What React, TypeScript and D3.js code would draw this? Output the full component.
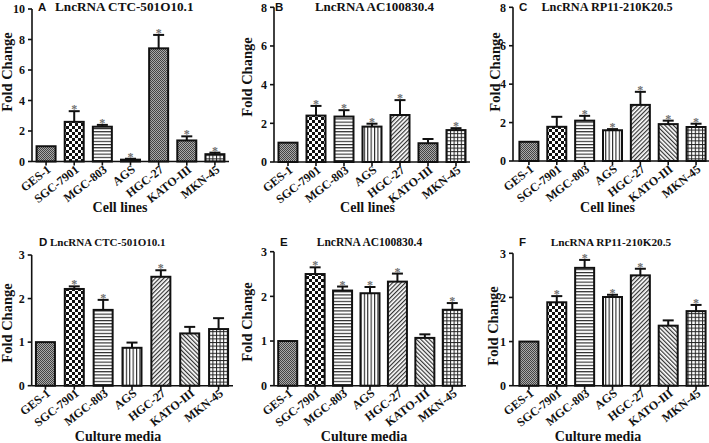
import React from "react";
import * as d3 from "d3";

const categories = ["GES-1", "SGC-7901", "MGC-803", "AGS", "HGC-27", "KATO-III", "MKN-45"];

const valuesA = [1.0, 2.6, 2.28, 0.12, 7.42, 1.38, 0.48];
const errorsA = [0, 0.7, 0.12, 0.06, 0.88, 0.27, 0.1];
const sigA = [false, true, true, true, true, true, true];

const valuesB = [1.0, 2.4, 2.35, 1.83, 2.43, 0.97, 1.65];
const errorsB = [0, 0.5, 0.33, 0.15, 0.77, 0.22, 0.1];
const sigB = [false, true, true, true, true, false, true];

const valuesC = [1.0, 1.78, 2.1, 1.6, 2.92, 1.92, 1.77];
const errorsC = [0, 0.52, 0.25, 0.06, 0.68, 0.18, 0.17];
const sigC = [false, false, true, true, true, true, true];

const valuesD = [1.0, 2.22, 1.74, 0.87, 2.5, 1.2, 1.3];
const errorsD = [0, 0.06, 0.23, 0.12, 0.15, 0.15, 0.25];
const sigD = [false, true, true, false, true, false, false];

const valuesE = [1.0, 2.5, 2.13, 2.07, 2.33, 1.07, 1.7];
const errorsE = [0, 0.15, 0.09, 0.14, 0.18, 0.08, 0.15];
const sigE = [false, true, true, true, true, false, true];

const valuesF = [1.0, 1.89, 2.67, 2.01, 2.5, 1.36, 1.69];
const errorsF = [0, 0.14, 0.18, 0.05, 0.15, 0.12, 0.14];
const sigF = [false, true, true, true, true, false, true];

const titles = ["LncRNA CTC-501O10.1", "LncRNA AC100830.4", "LncRNA RP11-210K20.5"];
const letters = ["A", "B", "C", "D", "E", "F"];
const xAxisTitles = ["Cell lines", "Culture media"];
const yAxisTitle = "Fold Change";
const yMaxTop = [10, 8, 8];
const yStepTop = [2, 2, 2];
const yMaxBottom = 3;
const yStepBottom = 1;

const serif = "'Liberation Serif', 'Times New Roman', serif";
const sans = "'Liberation Sans', Arial, sans-serif";

const patTop = [
  ["fine", "checker", "hlines", "vlines", "fine", "fine", "grid"],
  ["fine", "checker", "hlines", "vlines", "diag", "fine", "grid"],
  ["fine", "checker", "hlines", "vlines", "diag", "diag2", "grid"],
];
const patBottom = ["fine", "checker", "hlines", "vlines", "diag", "diag2", "grid"];

type Panel = {
  letter: string;
  title: string;
  values: number[];
  errors: number[];
  sig: boolean[];
  yMax: number;
  yStep: number;
  left: number;
  right: number;
  bandL: number;
  y0: number;
  yTop: number;
  letterX: number;
  titleX: number;
  titleAnchor: string;
  titleSize: number;
  titleY: number;
  ylabX: number;
  ylabY: number;
  xlab: string;
  xlabX: number;
  xlabY: number;
  lblDx: number;
  lblDy: number;
  patterns: string[];
};

const panels: Panel[] = [
  { letter: letters[0], title: titles[0], values: valuesA, errors: errorsA, sig: sigA, yMax: yMaxTop[0], yStep: yStepTop[0],
    left: 32, right: 229, bandL: 32, y0: 161.5, yTop: 9, letterX: 38, titleX: 55, titleAnchor: "start", titleSize: 13.2, titleY: 11,
    ylabX: 7, ylabY: 72, xlab: xAxisTitles[0], xlabX: 120, xlabY: 212, lblDx: 5.5, lblDy: 9.5, patterns: patTop[0] },
  { letter: letters[1], title: titles[1], values: valuesB, errors: errorsB, sig: sigB, yMax: yMaxTop[1], yStep: yStepTop[1],
    left: 274, right: 470, bandL: 274, y0: 162, yTop: 7.3, letterX: 275, titleX: 374.5, titleAnchor: "middle", titleSize: 13, titleY: 11,
    ylabX: 247, ylabY: 77, xlab: xAxisTitles[0], xlabX: 367.5, xlabY: 212, lblDx: 5.5, lblDy: 9.5, patterns: patTop[1] },
  { letter: letters[2], title: titles[2], values: valuesC, errors: errorsC, sig: sigC, yMax: yMaxTop[2], yStep: yStepTop[2],
    left: 513, right: 710, bandL: 515, y0: 161, yTop: 7.3, letterX: 519, titleX: 607, titleAnchor: "middle", titleSize: 12.3, titleY: 11,
    ylabX: 495, ylabY: 72, xlab: xAxisTitles[0], xlabX: 607.5, xlabY: 212, lblDx: 5.5, lblDy: 9.5, patterns: patTop[2] },
  { letter: letters[3], title: titles[0], values: valuesD, errors: errorsD, sig: sigD, yMax: yMaxBottom, yStep: yStepBottom,
    left: 31.7, right: 233, bandL: 31, y0: 385.7, yTop: 255, letterX: 39, titleX: 50, titleAnchor: "start", titleSize: 11, titleY: 246,
    ylabX: 7, ylabY: 323, xlab: xAxisTitles[1], xlabX: 118, xlabY: 441, lblDx: 5.5, lblDy: 9, patterns: patBottom },
  { letter: letters[4], title: titles[1], values: valuesE, errors: errorsE, sig: sigE, yMax: yMaxBottom, yStep: yStepBottom,
    left: 274, right: 466, bandL: 274, y0: 385.7, yTop: 251.7, letterX: 280, titleX: 369.5, titleAnchor: "middle", titleSize: 11.5, titleY: 246,
    ylabX: 246.5, ylabY: 322, xlab: xAxisTitles[1], xlabX: 364, xlabY: 441, lblDx: 5.5, lblDy: 9, patterns: patBottom },
  { letter: letters[5], title: titles[2], values: valuesF, errors: errorsF, sig: sigF, yMax: yMaxBottom, yStep: yStepBottom,
    left: 513, right: 710, bandL: 515, y0: 385.7, yTop: 253.3, letterX: 519, titleX: 611, titleAnchor: "middle", titleSize: 11.3, titleY: 246,
    ylabX: 493, ylabY: 326, xlab: xAxisTitles[1], xlabX: 598, xlabY: 441, lblDx: 5.5, lblDy: 9, patterns: patBottom },
];

function Patterns() {
  return (
    <defs>
      <pattern id="p-fine" width="2" height="2" patternUnits="userSpaceOnUse">
        <rect width="2" height="2" fill="#aaa" />
        <rect x="0" y="0" width="1" height="1" fill="#444" />
        <rect x="1" y="1" width="1" height="1" fill="#444" />
      </pattern>
      <pattern id="p-checker" width="6" height="6" patternUnits="userSpaceOnUse">
        <rect width="6" height="6" fill="#fff" />
        <rect x="0" y="0" width="3" height="3" fill="#111" />
        <rect x="3" y="3" width="3" height="3" fill="#111" />
      </pattern>
      <pattern id="p-hlines" width="4" height="3.2" patternUnits="userSpaceOnUse">
        <rect width="4" height="3.2" fill="#fff" />
        <rect x="0" y="0" width="4" height="1.1" fill="#222" />
      </pattern>
      <pattern id="p-vlines" width="3.4" height="4" patternUnits="userSpaceOnUse">
        <rect width="3.4" height="4" fill="#fff" />
        <rect x="0" y="0" width="1.1" height="4" fill="#222" />
      </pattern>
      <pattern id="p-diag" width="3" height="3" patternUnits="userSpaceOnUse" patternTransform="rotate(45)">
        <rect width="3" height="3" fill="#fff" />
        <rect x="0" y="0" width="1.2" height="3" fill="#333" />
      </pattern>
      <pattern id="p-diag2" width="3" height="3" patternUnits="userSpaceOnUse" patternTransform="rotate(-45)">
        <rect width="3" height="3" fill="#fff" />
        <rect x="0" y="0" width="1.2" height="3" fill="#333" />
      </pattern>
      <pattern id="p-grid" width="3.6" height="3.6" patternUnits="userSpaceOnUse">
        <rect width="3.6" height="3.6" fill="#fff" />
        <rect x="0" y="0" width="3.6" height="1" fill="#222" />
        <rect x="0" y="0" width="1" height="3.6" fill="#222" />
      </pattern>
    </defs>
  );
}

function BarPanel({ p }: { p: Panel }) {
  const x = d3.scalePoint<string>().domain(categories).range([p.bandL, p.right]).padding(0.5);
  const y = d3.scaleLinear().domain([0, p.yMax]).range([p.y0, p.yTop]);
  const ticks = d3.range(0, p.yMax + p.yStep / 2, p.yStep);
  const barW = 19;
  const capW = 11;
  return (
    <g>
      {categories.map((c, i) => {
        const cx = x(c)!;
        const v = p.values[i];
        const top = y(v);
        const errTop = y(v + p.errors[i]);
        return (
          <g key={c}>
            <rect x={cx - barW / 2} y={top} width={barW} height={p.y0 - top}
              fill={`url(#p-${p.patterns[i]})`} stroke="#111" strokeWidth={2} />
            {p.errors[i] > 0 && (
              <g stroke="#111" strokeWidth={2}>
                <line x1={cx} x2={cx} y1={top} y2={errTop} />
                <line x1={cx - capW / 2} x2={cx + capW / 2} y1={errTop} y2={errTop} />
              </g>
            )}
            {p.sig[i] && (
              <text x={cx} y={errTop + 2} textAnchor="middle" fontFamily={serif} fontWeight="bold"
                fontSize={12} fill="#707070">*</text>
            )}
          </g>
        );
      })}
      <line x1={p.left} x2={p.left} y1={p.y0} y2={p.yTop} stroke="#111" strokeWidth={1.6} />
      {ticks.map((t) => (
        <g key={t}>
          <line x1={p.left - 4} x2={p.left} y1={y(t)} y2={y(t)} stroke="#111" strokeWidth={1.6} />
          <text x={p.left - 7} y={y(t)} dy="0.35em" textAnchor="end" fontFamily={serif}
            fontWeight="bold" fontSize={12} fill="#111">{t}</text>
        </g>
      ))}
      <line x1={p.left} x2={p.right} y1={p.y0} y2={p.y0} stroke="#111" strokeWidth={1.6} />
      {categories.map((c) => {
        const cx = x(c)!;
        return (
          <g key={c}>
            <line x1={cx} x2={cx} y1={p.y0} y2={p.y0 + 4} stroke="#111" strokeWidth={1.6} />
            <text transform={`translate(${cx + p.lblDx},${p.y0 + p.lblDy}) rotate(-38)`} textAnchor="end"
              fontFamily={serif} fontWeight="bold" fontSize={12} fill="#111">{c}</text>
          </g>
        );
      })}
      <text x={p.letterX} y={p.titleY} fontFamily={sans} fontWeight="bold" fontSize={11.5} fill="#111">{p.letter}</text>
      <text x={p.titleX} y={p.titleY} textAnchor={p.titleAnchor} fontFamily={serif} fontWeight="bold"
        fontSize={p.titleSize} fill="#111">{p.title}</text>
      <text transform={`translate(${p.ylabX},${p.ylabY}) rotate(-90)`} dy="0.35em" textAnchor="middle"
        fontFamily={serif} fontWeight="bold" fontSize={14.5} fill="#111">{yAxisTitle}</text>
      <text x={p.xlabX} y={p.xlabY} textAnchor="middle" fontFamily={serif} fontWeight="bold"
        fontSize={14} fill="#111">{p.xlab}</text>
    </g>
  );
}

export default function App() {
  return (
    <svg width={709} height={443} viewBox="0 0 709 443"
      style={{ position: "absolute", left: 0, top: 0, background: "#fff" }}>
      <Patterns />
      <rect width={709} height={443} fill="#fff" />
      {panels.map((p) => (
        <BarPanel key={p.letter} p={p} />
      ))}
    </svg>
  );
}
